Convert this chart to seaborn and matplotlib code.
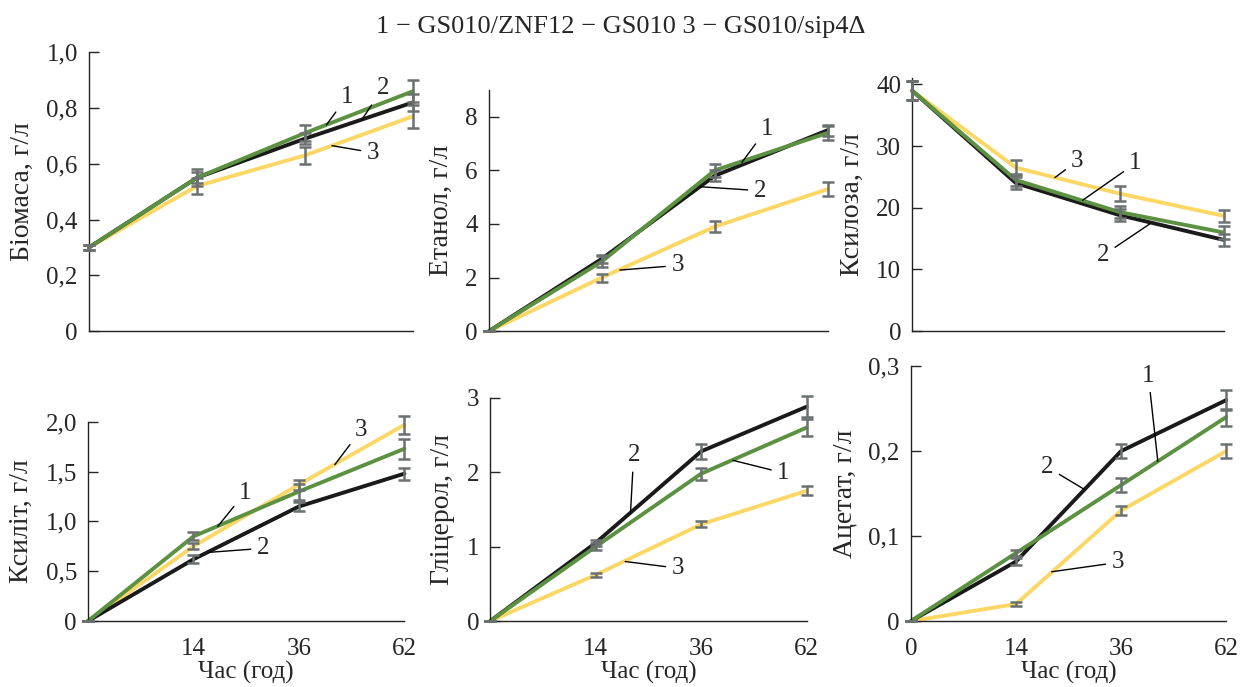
import pandas as pd
import seaborn as sns
from matplotlib import pyplot as plt

# часові точки (рівномірні позиції на осі)
hours = ["0", "14", "36", "62"]
strain_ids = [3, 2, 1]  # порядок малювання: жовта, чорна, зелена
colors = {1: "#5b9140", 2: "#1b1a1a", 3: "#fbd766"}
title = "1 \u2212 GS010/ZNF12 \u2212 GS010 3 \u2212 GS010/sip4\u0394"

biomass = {1: [0.30, 0.55, 0.71, 0.86], 2: [0.30, 0.55, 0.69, 0.82], 3: [0.30, 0.52, 0.63, 0.77]}
biomass_err = {1: [0.01, 0.03, 0.03, 0.04], 2: [0.01, 0.02, 0.02, 0.03], 3: [0.01, 0.03, 0.03, 0.04]}
ethanol = {1: [0, 2.6, 6.0, 7.4], 2: [0, 2.7, 5.8, 7.5], 3: [0, 2.0, 3.9, 5.3]}
ethanol_err = {1: [0, 0.2, 0.25, 0.25], 2: [0, 0.15, 0.2, 0.2], 3: [0, 0.15, 0.2, 0.25]}
xylose = {1: [39, 24.5, 19.3, 16.0], 2: [39, 24.0, 18.8, 14.8], 3: [39, 26.5, 22.3, 18.7]}
xylose_err = {1: [1.5, 1.0, 1.0, 1.0], 2: [1.5, 1.0, 1.0, 1.0], 3: [1.5, 1.2, 1.2, 1.0]}
xylitol = {1: [0, 0.85, 1.30, 1.73], 2: [0, 0.62, 1.15, 1.48], 3: [0, 0.75, 1.37, 1.97]}
xylitol_err = {1: [0, 0.04, 0.08, 0.10], 2: [0, 0.04, 0.05, 0.06], 3: [0, 0.03, 0.05, 0.09]}
glycerol = {1: [0, 1.0, 1.98, 2.6], 2: [0, 1.05, 2.28, 2.88], 3: [0, 0.62, 1.30, 1.75]}
glycerol_err = {1: [0, 0.05, 0.08, 0.12], 2: [0, 0.04, 0.1, 0.14], 3: [0, 0.03, 0.04, 0.06]}
acetate = {1: [0, 0.08, 0.16, 0.24], 2: [0, 0.07, 0.20, 0.26], 3: [0, 0.02, 0.13, 0.20]}
acetate_err = {1: [0, 0.004, 0.008, 0.01], 2: [0, 0.004, 0.008, 0.012], 3: [0, 0.002, 0.005, 0.008]}

# підписи осей та шкали
ylabels = ["Біомаса, г/л", "Етанол, г/л", "Ксилоза, г/л", "Ксиліт, г/л", "Гліцерол, г/л", "Ацетат, г/л"]
yticks = [[0, 0.2, 0.4, 0.6, 0.8, 1.0], [0, 2, 4, 6, 8], [0, 10, 20, 30, 40],
          [0, 0.5, 1.0, 1.5, 2.0], [0, 1, 2, 3], [0, 0.1, 0.2, 0.3]]
ytick_labels = [["0", "0,2", "0,4", "0,6", "0,8", "1,0"], ["0", "2", "4", "6", "8"],
                ["0", "10", "20", "30", "40"], ["0", "0,5", "1,0", "1,5", "2,0"],
                ["0", "1", "2", "3"], ["0", "0,1", "0,2", "0,3"]]
ylims = [(0, 1.0), (0, 9), (0, 41), (0, 2.0), (0, 3), (0, 0.3)]
xtick_labels = [["", "", "", ""]] * 3 + [["", "14", "36", "62"], ["", "14", "36", "62"], ["0", "14", "36", "62"]]

# підписи кривих: (номер, позиція тексту, кінець виноски)
notes = [
    [("1", (2.39, 0.84), (2.20, 0.74)), ("2", (2.72, 0.87), (2.53, 0.76)), ("3", (2.63, 0.64), (2.25, 0.665))],
    [("1", (2.46, 7.55), (2.24, 6.3)), ("2", (2.40, 5.24), (1.87, 5.39)), ("3", (1.67, 2.45), (1.16, 2.28))],
    [("3", (1.59, 27.6), (1.375, 24.9)), ("1", (2.15, 27.2), (1.64, 21.2)), ("2", (1.84, 12.3), (2.29, 17.4))],
    [("1", (1.49, 1.29), (1.23, 0.95)), ("2", (1.66, 0.73), (1.15, 0.69)), ("3", (2.59, 1.92), (2.34, 1.57))],
    [("2", (1.36, 2.23), (1.33, 1.45)), ("1", (2.78, 1.99), (2.30, 2.16)), ("3", (1.78, 0.71), (1.28, 0.80))],
    [("1", (2.26, 0.289), (2.35, 0.188)), ("2", (1.30, 0.181), (1.65, 0.155)), ("3", (1.97, 0.069), (1.34, 0.058))],
]

# положення панелей у частках фігури
rects = [
    (0.0717, 0.518, 0.261, 0.406), (0.394, 0.518, 0.273, 0.351), (0.735, 0.518, 0.251, 0.368),
    (0.0709, 0.096, 0.255, 0.290), (0.395, 0.096, 0.255, 0.325), (0.734, 0.096, 0.254, 0.371),
]

panels = [(biomass, biomass_err), (ethanol, ethanol_err), (xylose, xylose_err),
          (xylitol, xylitol_err), (glycerol, glycerol_err), (acetate, acetate_err)]


def to_frame(values: dict) -> pd.DataFrame:
    rows = []
    for sid in strain_ids:
        for pos, v in enumerate(values[sid]):
            rows.append({"pos": pos, "value": v, "strain": sid})
    return pd.DataFrame(rows)


def main() -> None:
    sns.set_style("ticks")
    plt.rcParams["font.family"] = ["Liberation Serif", "DejaVu Serif"]

    fig = plt.figure(figsize=(12.41, 6.87), dpi=100)
    fig.suptitle(title, y=0.961, va="center", fontsize=19)

    for i, (values, errors) in enumerate(panels):
        ax = fig.add_axes(rects[i])
        df = to_frame(values)
        sns.lineplot(data=df, x="pos", y="value", hue="strain", hue_order=strain_ids,
                     palette=colors, linewidth=2.8, legend=False, errorbar=None,
                     ax=ax, clip_on=False, zorder=2)
        for sid in strain_ids:
            ax.errorbar(range(len(hours)), values[sid], yerr=errors[sid], fmt="none",
                        ecolor="#6b7070", elinewidth=1.8, capsize=4.3, capthick=1.8,
                        clip_on=False, zorder=3)

        for label, text_xy, tip_xy in notes[i]:
            ax.annotate(label, xy=tip_xy, xytext=text_xy, ha="center", va="center",
                        fontsize=18, arrowprops=dict(arrowstyle="-", color="black", lw=1.0,
                                                     shrinkA=2, shrinkB=0))

        ax.set_xlim(0, len(hours) - 1)
        ax.set_ylim(*ylims[i])
        ax.set_xticks(range(len(hours)))
        ax.set_xticklabels(xtick_labels[i])
        ax.set_yticks(yticks[i])
        ax.set_yticklabels(ytick_labels[i])
        ax.tick_params(axis="y", direction="in", length=7, width=1, labelsize=18, pad=8)
        ax.tick_params(axis="x", length=0, labelsize=18, pad=12)
        ax.set_ylabel(ylabels[i], fontsize=20, labelpad=8)
        if i >= 3:
            ax.set_xlabel("Час (год)", fontsize=18, labelpad=1)
        else:
            ax.set_xlabel("")
        sns.despine(ax=ax)
        for side in ("left", "bottom"):
            ax.spines[side].set_linewidth(1.0)
            ax.spines[side].set_color("#222222")

    plt.savefig("out.png", dpi=100)


if __name__ == "__main__":
    main()
